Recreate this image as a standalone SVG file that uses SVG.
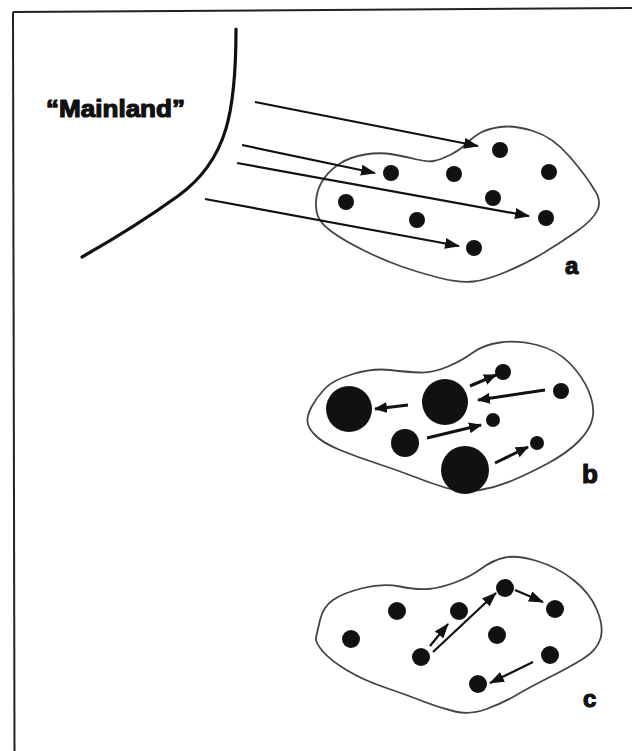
<svg xmlns="http://www.w3.org/2000/svg" width="632" height="751" viewBox="0 0 632 751">
<style>
.frame{stroke:#222;stroke-width:2;fill:none}
.coast{stroke:#111;stroke-width:3.2;fill:none;stroke-linecap:round}
.island{stroke:#444;stroke-width:1.8;fill:none}
.dot{fill:#111}
.lbl{font-family:"Liberation Sans",Arial,sans-serif;font-weight:bold;fill:#111;stroke:#111;stroke-width:1.2;stroke-linejoin:round}
.arr{stroke:#111;stroke-width:2.2;fill:none;marker-end:url(#ah)}
.arrb{stroke:#111;stroke-width:3;fill:none;marker-end:url(#ahb)}
</style>
<defs>
<marker id="ah" viewBox="0 0 15 11" refX="14" refY="5.5" markerWidth="15" markerHeight="11" markerUnits="userSpaceOnUse" orient="auto"><path d="M0,0 L15,5.5 L0,11 z" fill="#111"/></marker>
<marker id="ahb" viewBox="0 0 13 11" refX="12" refY="5.5" markerWidth="13" markerHeight="11" markerUnits="userSpaceOnUse" orient="auto"><path d="M0,0 L13,5.5 L0,11 z" fill="#111"/></marker>
</defs>
<rect width="632" height="751" fill="#fff"/>
<g id="frame">
<line class="frame" x1="13" y1="12" x2="632" y2="8"/>
<line class="frame" x1="13" y1="12" x2="14.5" y2="751"/>
</g>
<g id="mainland">
<path class="coast" d="M236,29 C236,110 228,160 178,196 C142,222 112,240 82,257"/>
<text class="lbl" x="46" y="117" font-size="24" textLength="139" lengthAdjust="spacingAndGlyphs">“Mainland”</text>
</g>
<g id="island-a">
<path class="island" d="M500,127 Q513,125 533,131 Q553,137 570,157 Q587,177 593.5,188.5 Q602,200 597.5,210 Q593,220 576.5,231.5 Q560,243 543.5,253 Q527,263 507,271.5 Q487,280 473.5,281.5 Q460,283 440,278 Q420,273 401.5,266.5 Q383,260 363,250 Q343,240 331.5,231.5 Q320,223 317.5,215 Q315,207 316.5,197 Q318,187 324,178.5 Q330,170 340,163.5 Q350,157 365,154.5 Q380,152 393.5,154.5 Q407,157 417,159.5 Q427,162 433.5,161 Q440,160 450,155 Q460,150 466.5,143.5 Q473,137 480,133 Q487,129 500,127 Z"/>
<circle class="dot" cx="500" cy="150" r="8"/>
<circle class="dot" cx="391" cy="173" r="8"/>
<circle class="dot" cx="454" cy="174" r="8"/>
<circle class="dot" cx="549" cy="172" r="8"/>
<circle class="dot" cx="493" cy="198" r="8"/>
<circle class="dot" cx="346" cy="202" r="8"/>
<circle class="dot" cx="417" cy="220" r="8"/>
<circle class="dot" cx="546" cy="218" r="8"/>
<circle class="dot" cx="474" cy="248" r="8"/>
<text class="lbl" x="565" y="274" font-size="24">a</text>
</g>
<g id="island-b">
<path class="island" d="M312,406 Q317,397 325,388.5 Q333,380 353,374 Q373,368 390,370 Q407,372 420,372.5 Q433,373 448,366.5 Q463,360 473,352.5 Q483,345 500,342.5 Q517,340 537,345 Q557,350 570,363.5 Q583,377 589,392 Q595,407 592.5,418.5 Q590,430 578.5,441.5 Q567,453 548.5,463 Q530,473 513.5,480 Q497,487 480,490 Q463,493 446.5,488 Q430,483 413.5,476.5 Q397,470 377,463.5 Q357,457 340,450 Q323,443 315.5,435.5 Q308,428 307.5,421.5 Q307,415 312,406 Z"/>
<circle class="dot" cx="349" cy="409" r="23"/>
<circle class="dot" cx="445" cy="402" r="23"/>
<circle class="dot" cx="465" cy="470" r="24"/>
<circle class="dot" cx="405" cy="443" r="14"/>
<circle class="dot" cx="503" cy="372" r="8"/>
<circle class="dot" cx="561" cy="391" r="8"/>
<circle class="dot" cx="493" cy="420" r="7"/>
<circle class="dot" cx="537" cy="443" r="7"/>
<text class="lbl" x="582" y="483" font-size="26">b</text>
</g>
<g id="island-c">
<path class="island" d="M320,620 Q323,607 333,600 Q343,593 363,588 Q383,583 400,586.5 Q417,590 428.5,589 Q440,588 455,582.5 Q470,577 481.5,568.5 Q493,560 505,557.5 Q517,555 537,561 Q557,567 573.5,580 Q590,593 597,610 Q604,627 600.5,638.5 Q597,650 583.5,658.5 Q570,667 550,677 Q530,687 516.5,695 Q503,703 486.5,709 Q470,715 455,711.5 Q440,708 423.5,701.5 Q407,695 385,687.5 Q363,680 346.5,670 Q330,660 322.5,651 Q315,642 316,637.5 Q317,633 320,620 Z"/>
<circle class="dot" cx="397" cy="611" r="9"/>
<circle class="dot" cx="351" cy="639" r="9"/>
<circle class="dot" cx="459" cy="611" r="9"/>
<circle class="dot" cx="505" cy="588" r="9"/>
<circle class="dot" cx="555" cy="609" r="9"/>
<circle class="dot" cx="497" cy="635" r="9"/>
<circle class="dot" cx="421" cy="657" r="9"/>
<circle class="dot" cx="550" cy="655" r="9"/>
<circle class="dot" cx="478" cy="684" r="9"/>
<text class="lbl" x="583" y="707" font-size="24">c</text>
</g>
<g id="connectors">
<line class="arr" x1="255" y1="102" x2="478" y2="146"/>
<line class="arr" x1="242" y1="145" x2="375" y2="173"/>
<line class="arr" x1="237" y1="163" x2="529" y2="216"/>
<line class="arr" x1="205" y1="199" x2="459" y2="246"/>
<line class="arrb" x1="408" y1="405" x2="375" y2="409"/>
<line class="arrb" x1="470" y1="386" x2="496" y2="375"/>
<line class="arrb" x1="545" y1="390" x2="478" y2="400"/>
<line class="arrb" x1="427" y1="438" x2="481" y2="425"/>
<line class="arrb" x1="495" y1="463" x2="528" y2="447"/>
<line class="arr" x1="430" y1="646" x2="448" y2="624"/>
<line class="arr" x1="433" y1="652" x2="496" y2="593"/>
<line class="arr" x1="515" y1="590" x2="543" y2="602"/>
<line class="arr" x1="533" y1="662" x2="490" y2="683"/>
</g>
</svg>
